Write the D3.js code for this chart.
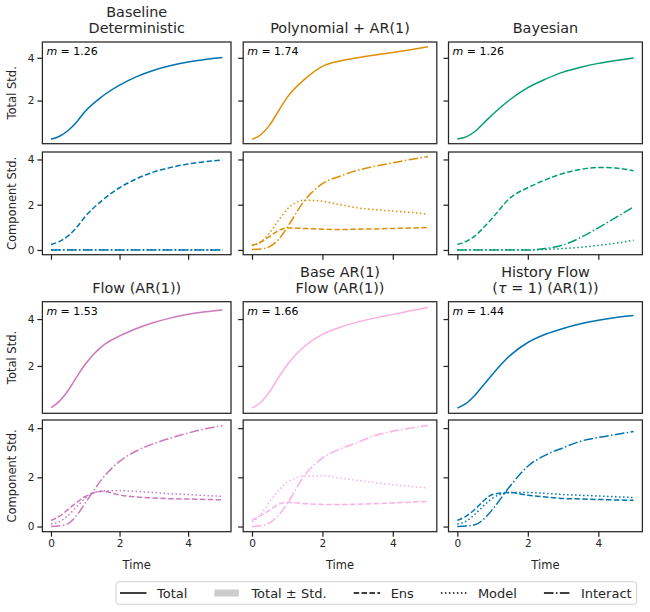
<!DOCTYPE html>
<html>
<head>
<meta charset="utf-8">
<script src="https://cdn.jsdelivr.net/npm/d3@7"></script>
<style>
  body { margin: 0; background: #fff; }
  text { font-family: "DejaVu Sans", sans-serif; fill: #262626; font-weight: 400; }
</style>
</head>
<body>
<script>
// time grid shared by every curve
const times = [0, 0.25, 0.5, 0.75, 1, 1.5, 2, 2.5, 3, 3.5, 4, 4.5, 5];

const titles = [
  ["Baseline", "Deterministic"],
  ["Polynomial + AR(1)"],
  ["Bayesian"],
  ["Flow (AR(1))"],
  ["Base AR(1)", "Flow (AR(1))"],
  ["History Flow", "(τ = 1) (AR(1))"]
];
const mValues = [1.26, 1.74, 1.26, 1.53, 1.66, 1.44];

// one row per model, values at `times`
const totalStd = [
  [0.19, 0.33, 0.6, 1.0, 1.5, 2.2, 2.72, 3.12, 3.42, 3.64, 3.8, 3.92, 4.01],
  [0.18, 0.4, 0.85, 1.5, 2.15, 3.0, 3.6, 3.85, 4.0, 4.13, 4.25, 4.38, 4.52],
  [0.2, 0.3, 0.55, 0.95, 1.35, 2.05, 2.6, 3.0, 3.33, 3.56, 3.74, 3.87, 3.99],
  [0.22, 0.5, 0.95, 1.53, 2.07, 2.85, 3.28, 3.6, 3.85, 4.05, 4.2, 4.31, 4.39],
  [0.2, 0.45, 0.9, 1.5, 2.05, 2.85, 3.35, 3.65, 3.87, 4.05, 4.2, 4.35, 4.5],
  [0.2, 0.4, 0.75, 1.2, 1.65, 2.45, 3.0, 3.35, 3.6, 3.8, 3.95, 4.07, 4.15]
];
const ensStd = [
  [0.24, 0.38, 0.62, 1.0, 1.48, 2.2, 2.75, 3.15, 3.45, 3.65, 3.8, 3.9, 3.98],
  [0.2, 0.35, 0.6, 0.85, 0.97, 0.95, 0.92, 0.9, 0.92, 0.93, 0.95, 0.97, 0.99],
  [0.24, 0.38, 0.62, 1.0, 1.42, 2.3, 2.75, 3.1, 3.38, 3.56, 3.65, 3.62, 3.5],
  [0.25, 0.42, 0.7, 0.98, 1.22, 1.43, 1.28, 1.2, 1.16, 1.13, 1.12, 1.1, 1.09],
  [0.25, 0.45, 0.66, 0.9, 0.98, 0.93, 0.9, 0.89, 0.91, 0.93, 0.96, 0.99, 1.02],
  [0.25, 0.42, 0.7, 1.05, 1.3, 1.38, 1.27, 1.2, 1.14, 1.12, 1.1, 1.08, 1.07]
];
const modelStd = [
  [0, 0, 0, 0, 0, 0, 0, 0, 0, 0, 0, 0, 0],
  [0.2, 0.35, 0.75, 1.3, 1.8, 2.2, 2.15, 2.0, 1.86, 1.78, 1.72, 1.66, 1.58],
  [0, 0, 0, 0, 0, 0, 0, 0.02, 0.06, 0.12, 0.2, 0.3, 0.43],
  [0.1, 0.2, 0.45, 0.8, 1.15, 1.45, 1.46, 1.42, 1.38, 1.33, 1.3, 1.26, 1.23],
  [0.18, 0.5, 1.0, 1.45, 1.8, 2.05, 2.07, 1.97, 1.87, 1.78, 1.7, 1.63, 1.57],
  [0.1, 0.22, 0.5, 0.85, 1.15, 1.38, 1.38, 1.35, 1.3, 1.27, 1.24, 1.21, 1.18]
];
const interactStd = [
  [0, 0, 0, 0, 0, 0, 0, 0, 0, 0, 0, 0, 0],
  [0.02, 0.04, 0.15, 0.45, 1.0, 2.2, 2.93, 3.26, 3.52, 3.7, 3.85, 4.0, 4.13],
  [0, 0, 0, 0, 0, 0, 0, 0.06, 0.22, 0.55, 0.98, 1.44, 1.9],
  [0, 0.03, 0.12, 0.45, 0.95, 1.95, 2.65, 3.08, 3.37, 3.6, 3.8, 3.97, 4.1],
  [0, 0.03, 0.15, 0.45, 0.93, 2.1, 2.78, 3.15, 3.42, 3.7, 3.87, 4.0, 4.11],
  [0, 0.02, 0.07, 0.3, 0.7, 1.65, 2.45, 2.9, 3.2, 3.47, 3.62, 3.74, 3.86]
];

const colors = ["#0173b2", "#de8f05", "#029e73", "#cc78bc", "#fbafe4", "#0173b2"];
const legendLabels = ["Total", "Total ± Std.", "Ens", "Model", "Interact"];

// dash patterns (matplotlib style, lw 1.5)
const dashes = {
  total: null,
  ens: "5.5,2.4",
  model: "1.5,2.5",
  interact: "9.6,2.4,1.5,2.4"
};

const W = 650, H = 612;
const colX = [[42.4, 231], [243.2, 436.8], [448.5, 642.4]];
const rows = [
  { total: [42, 143.7], comp: [152, 254.7] },
  { total: [301.7, 413.3], comp: [420, 531.7] }
];
const ink = "#262626";

const svg = d3.select("body").append("svg")
    .attr("width", W)
    .attr("height", H);

function frame(g, x0, x1, y0, y1) {
  g.append("rect")
      .attr("x", x0).attr("y", y0)
      .attr("width", x1 - x0).attr("height", y1 - y0)
      .attr("fill", "none")
      .attr("stroke", ink)
      .attr("stroke-width", 1.25);
}

function styleAxis(a) {
  a.select(".domain").remove();
  a.selectAll(".tick line").attr("stroke", ink).attr("stroke-width", 1.25);
  a.selectAll(".tick text").style("font-size", "10.5px").attr("fill", ink);
}

for (let i = 0; i < 6; i++) {
  const r = Math.floor(i / 3), c = i % 3;
  const [x0, x1] = colX[c];
  const row = rows[r];
  const g = svg.append("g");

  const x = d3.scaleLinear().domain([-0.25, 5.25]).range([x0, x1]);
  const yT = d3.scaleLinear().domain([-0.02, 4.74]).range([row.total[1], row.total[0]]);
  const yC = d3.scaleLinear().domain([-0.21, 4.33]).range([row.comp[1], row.comp[0]]);

  // title
  const lines = titles[i];
  lines.forEach(function(l, k) {
    const t = g.append("text")
        .attr("x", (x0 + x1) / 2)
        .attr("y", row.total[0] - 9 - (lines.length - 1 - k) * 16)
        .attr("text-anchor", "middle")
        .style("font-size", "14.4px");
    if (l.indexOf("τ") >= 0) {
      const parts = l.split("τ");
      t.append("tspan").text(parts[0]);
      t.append("tspan").style("font-style", "italic").text("τ");
      t.append("tspan").text(parts[1]);
    } else {
      t.text(l);
    }
  });

  // y axes
  const ayT = g.append("g")
      .attr("transform", "translate(" + x0 + ",0)")
      .call(d3.axisLeft(yT).tickValues([2, 4]).tickSize(5).tickPadding(3)
        .tickFormat(c === 0 ? d3.format("d") : ""));
  styleAxis(ayT);
  const ayC = g.append("g")
      .attr("transform", "translate(" + x0 + ",0)")
      .call(d3.axisLeft(yC).tickValues([0, 2, 4]).tickSize(5).tickPadding(3)
        .tickFormat(c === 0 ? d3.format("d") : ""));
  styleAxis(ayC);

  // x axis under component panel
  const ax = g.append("g")
      .attr("transform", "translate(0," + row.comp[1] + ")")
      .call(d3.axisBottom(x).tickValues([0, 2, 4]).tickSize(5).tickPadding(3)
        .tickFormat(r === 1 ? d3.format("d") : ""));
  styleAxis(ax);

  if (r === 1) {
    g.append("text")
        .attr("x", (x0 + x1) / 2)
        .attr("y", 569)
        .attr("text-anchor", "middle")
        .style("font-size", "11.5px")
        .text("Time");
  }
  if (c === 0) {
    [["Total Std.", row.total], ["Component Std.", row.comp]].forEach(function(p) {
      g.append("text")
          .attr("transform", "translate(16," + (p[1][0] + p[1][1]) / 2 + ") rotate(-90)")
          .attr("text-anchor", "middle")
          .style("font-size", "11.5px")
          .text(p[0]);
    });
  }

  // curves
  const lineT = d3.line().x(function(d, k) { return x(times[k]); })
      .y(function(d) { return yT(d); }).curve(d3.curveMonotoneX);
  const lineC = d3.line().x(function(d, k) { return x(times[k]); })
      .y(function(d) { return yC(d); }).curve(d3.curveMonotoneX);

  g.append("path")
      .attr("d", lineT(totalStd[i]))
      .attr("fill", "none")
      .attr("stroke", colors[i])
      .attr("stroke-width", 1.5);

  [[ensStd, dashes.ens], [modelStd, dashes.model], [interactStd, dashes.interact]].forEach(function(s) {
    g.append("path")
        .attr("d", lineC(s[0][i]))
        .attr("fill", "none")
        .attr("stroke", colors[i])
        .attr("stroke-width", 1.5)
        .attr("stroke-dasharray", s[1]);
  });

  frame(g, x0, x1, row.total[0], row.total[1]);
  frame(g, x0, x1, row.comp[0], row.comp[1]);

  // m annotation
  const mt = g.append("text")
      .attr("x", x0 + 4)
      .attr("y", row.total[0] + 13)
      .style("font-size", "11px")
      .style("fill", "#000");
  mt.append("tspan").style("font-style", "italic").text("m");
  mt.append("tspan").text(" = " + d3.format(".2f")(mValues[i]));
}

// legend
const lg = svg.append("g");
const box = lg.append("rect")
    .attr("y", 581.7)
    .attr("height", 22.6)
    .attr("rx", 3)
    .attr("fill", "#fff")
    .attr("stroke", "#d0d0d0")
    .attr("stroke-width", 1);
const ly = 593;
let cx = 120;
const handle = 26.5;
legendLabels.forEach(function(lab, k) {
  if (k === 1) {
    lg.append("rect")
        .attr("x", cx).attr("y", ly - 3.5)
        .attr("width", handle - 2).attr("height", 7)
        .attr("fill", "#cccccc");
  } else {
    const key = ["total", null, "ens", "model", "interact"][k];
    lg.append("line")
        .attr("x1", cx).attr("x2", cx + handle)
        .attr("y1", ly).attr("y2", ly)
        .attr("stroke", "#000")
        .attr("stroke-width", 1.5)
        .attr("stroke-dasharray", dashes[key]);
  }
  const t = lg.append("text")
      .attr("x", cx + handle + 10.5)
      .attr("y", ly + 4.5)
      .style("font-size", "13px")
      .text(lab);
  cx = cx + handle + 10.5 + t.node().getComputedTextLength() + 27;
});
box.attr("x", 116).attr("width", cx - 27 + 5 - 116);
</script>
</body>
</html>
